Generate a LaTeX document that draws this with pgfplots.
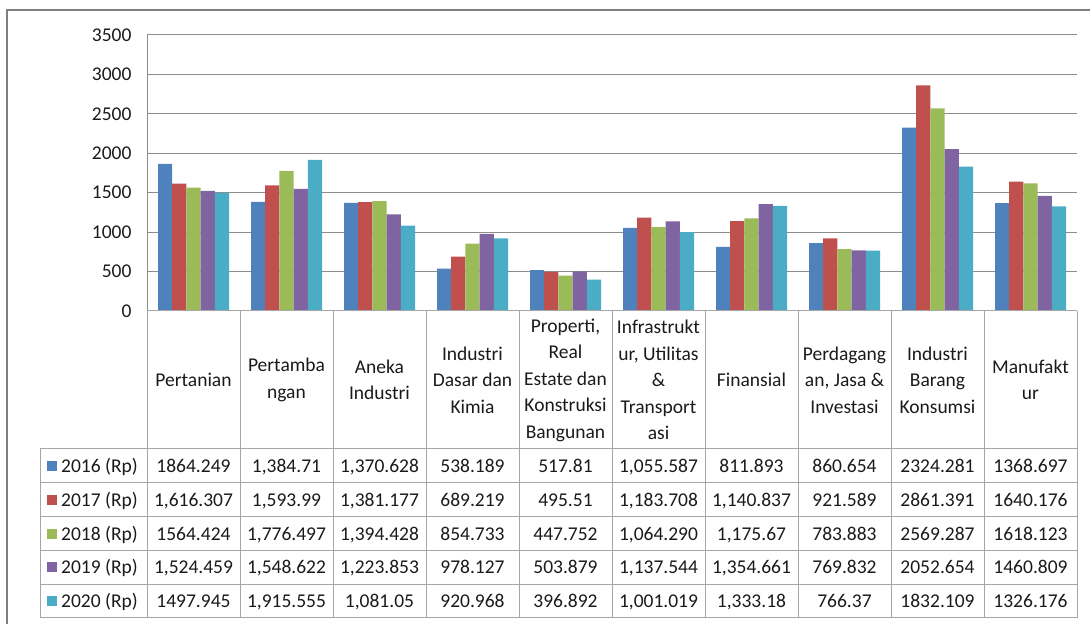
\documentclass[border=0pt]{standalone}
\usepackage{pgfplots}
\pgfplotsset{compat=1.18}
\usepackage{fontspec}
\setmainfont{Carlito}
\definecolor{c1}{HTML}{4F81BD}
\definecolor{c2}{HTML}{C0504D}
\definecolor{c3}{HTML}{9BBB59}
\definecolor{c4}{HTML}{8064A2}
\definecolor{c5}{HTML}{4BACC6}
\definecolor{gridc}{HTML}{8C8C8C}
\definecolor{tabc}{HTML}{A6A6A6}
\definecolor{framec}{HTML}{7F7F7F}
\definecolor{txt}{HTML}{1A1A1A}
\newcommand\cf{\fontsize{19.5}{26.5}\selectfont}
\begin{document}
\begin{tikzpicture}[x=1pt,y=1pt]
\useasboundingbox (0,0) rectangle (1090,624);
\draw[framec, line width=2pt] (7,0) -- (7,614) -- (1090,614);
\begin{axis}[
  scale only axis, width=930pt, height=276pt,
  at={(147pt,313pt)}, anchor=south west,
  xmin=-0.5, xmax=9.5, ymin=0, ymax=3500,
  ytick={0,500,...,3500}, xtick=\empty,
  axis x line=none, axis y line*=left,
  axis line style={gridc, line width=1pt},
  ymajorgrids, major grid style={gridc, line width=1pt},
  major tick length=0pt,
  yticklabel style={font=\cf, text=txt, xshift=-12pt},
  /pgf/number format/assume math mode=true,
  /pgf/number format/1000 sep={},
  ybar=0pt, bar width=14.2pt,
  every axis plot/.append style={draw=none},
]
\addplot[fill=c1] coordinates {(0,1864.249) (1,1384.71) (2,1370.628) (3,538.189) (4,517.81) (5,1055.587) (6,811.893) (7,860.654) (8,2324.281) (9,1368.697)};
\addplot[fill=c2] coordinates {(0,1616.307) (1,1593.99) (2,1381.177) (3,689.219) (4,495.51) (5,1183.708) (6,1140.837) (7,921.589) (8,2861.391) (9,1640.176)};
\addplot[fill=c3] coordinates {(0,1564.424) (1,1776.497) (2,1394.428) (3,854.733) (4,447.752) (5,1064.290) (6,1175.67) (7,783.883) (8,2569.287) (9,1618.123)};
\addplot[fill=c4] coordinates {(0,1524.459) (1,1548.622) (2,1223.853) (3,978.127) (4,503.879) (5,1137.544) (6,1354.661) (7,769.832) (8,2052.654) (9,1460.809)};
\addplot[fill=c5] coordinates {(0,1497.945) (1,1915.555) (2,1081.05) (3,920.968) (4,396.892) (5,1001.019) (6,1333.18) (7,766.37) (8,1832.109) (9,1326.176)};
\end{axis}
% table grid
\draw[tabc, line width=1pt] (147,313) -- (1077,313);
\foreach \yy in {175,141.2,107.4,73.6,39.8,6} \draw[tabc, line width=1pt] (40,\yy) -- (1077,\yy);
\foreach \k in {0,...,10} \draw[tabc, line width=1pt] (147+93*\k,313) -- (147+93*\k,6);
\draw[tabc, line width=1pt] (40,175) -- (40,6);
% header
\foreach \t [count=\i from 0] in {
  {Pertanian},
  {Pertamba\\ngan},
  {Aneka\\Industri},
  {Industri\\Dasar dan\\Kimia},
  {Properti,\\Real\\Estate dan\\Konstruksi\\Bangunan},
  {Infrastrukt\\ur, Utilitas\\\&\\Transport\\asi},
  {Finansial},
  {Perdagang\\an, Jasa \&\\Investasi},
  {Industri\\Barang\\Konsumsi},
  {Manufakt\\ur}}
  \node[font=\cf, text=txt, align=center, inner sep=0pt] at (193.5+93*\i,244) {\t};
% rows
\foreach \col/\yr [count=\r from 0] in {c1/2016,c2/2017,c3/2018,c4/2019,c5/2020}{
  \fill[\col] (47,158-33.8*\r-5) rectangle (57,158-33.8*\r+5);
  \node[font=\cf, text=txt, anchor=base west, inner sep=0pt] at (61,158-33.8*\r-6.5) {\yr\ (Rp)};
}
\newcommand\row[2]{%
  \foreach \v [count=\i from 0] in {#2}
    \node[font=\cf, text=txt, anchor=base, inner sep=0pt] at (193.5+93*\i,158-33.8*#1-6.5) {\v};
}
\row{0}{{1864.249},{1,384.71},{1,370.628},{538.189},{517.81},{1,055.587},{811.893},{860.654},{2324.281},{1368.697}}
\row{1}{{1,616.307},{1,593.99},{1,381.177},{689.219},{495.51},{1,183.708},{1,140.837},{921.589},{2861.391},{1640.176}}
\row{2}{{1564.424},{1,776.497},{1,394.428},{854.733},{447.752},{1,064.290},{1,175.67},{783.883},{2569.287},{1618.123}}
\row{3}{{1,524.459},{1,548.622},{1,223.853},{978.127},{503.879},{1,137.544},{1,354.661},{769.832},{2052.654},{1460.809}}
\row{4}{{1497.945},{1,915.555},{1,081.05},{920.968},{396.892},{1,001.019},{1,333.18},{766.37},{1832.109},{1326.176}}
\end{tikzpicture}
\end{document}
